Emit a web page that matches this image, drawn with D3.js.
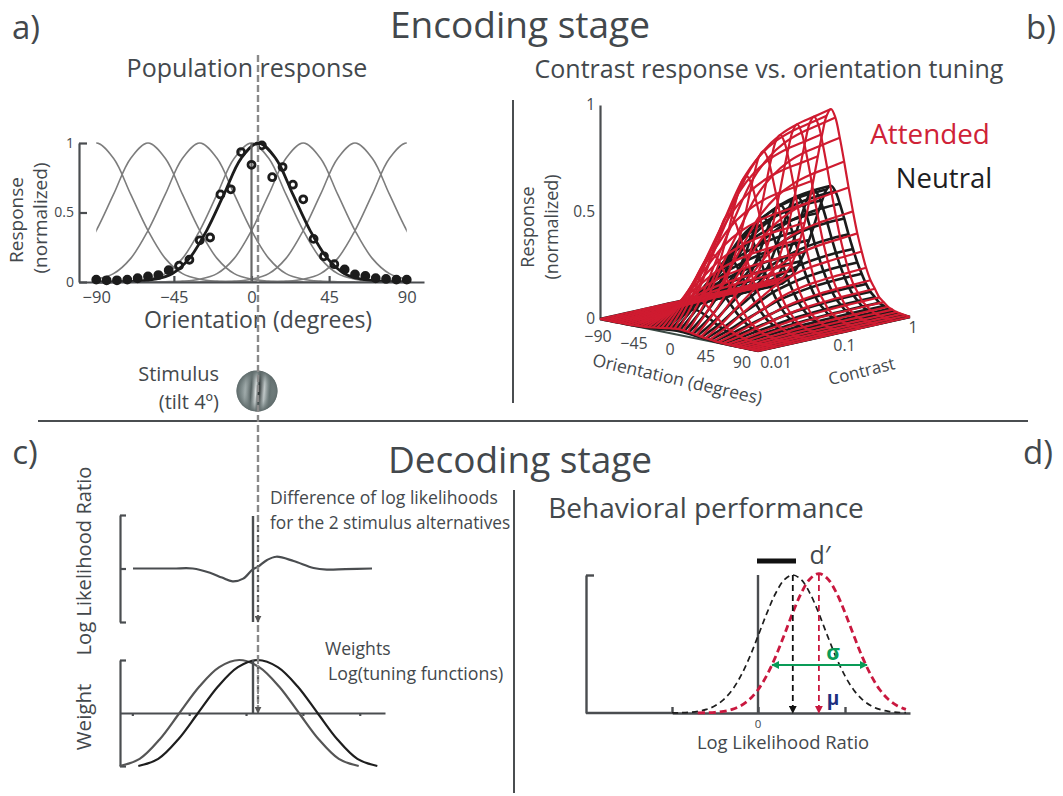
<!DOCTYPE html>
<html><head><meta charset="utf-8">
<script src="https://cdn.jsdelivr.net/npm/d3@7/dist/d3.min.js"></script>
<style>html,body{margin:0;padding:0;background:#fff}svg{display:block}text{font-family:"Open Sans",sans-serif;fill:#43484c}</style>
</head><body><svg id="c" width="1063" height="796"></svg>
<script>
// ---- panel a
const tuningPeaks=[-90,-60,-30,0,30,60,90];
const tuningOffsets=[-120,-90,-80,-70,-60,-50,-40,-30,-20,-10,0,10,20,30,40,50,60,70,80,90,120];
const tuningValues=[0,0,.002,.006,.02,.06,.17,.37,.63,.89,1,.89,.63,.37,.17,.06,.02,.006,.002,0,0];
const fittedPeak=4;
const dotOrient=[-90,-84,-78,-72,-66,-60,-54,-48,-42,-36,-30,-24,-18,-12,-6,0,6,12,18,24,30,36,42,48,54,60,66,72,78,84,90];
const dotResp=[.017,.012,.012,.017,.027,.04,.05,.085,.118,.16,.30,.32,.63,.667,.935,.843,.983,.754,.827,.70,.595,.31,.185,.128,.09,.055,.043,.027,.022,.017,.017];
const orientTicksA=[-90,-45,0,45,90];
const respTicks=[0,.5,1];
// ---- panel b
const meshOrient=[-90,-85,-80,-75,-70,-65,-60,-55,-50,-45,-40,-35,-30,-25,-20,-15,-10,-5,0,5,10,15,20,25,30,35,40,45,50,55,60,65,70,75,80,85,90];
const meshTuning=[0,.003,.007,.012,.02,.03,.05,.07,.11,.15,.21,.29,.38,.49,.61,.74,.86,.96,1,.96,.86,.74,.61,.49,.38,.29,.21,.15,.11,.07,.05,.03,.02,.012,.007,.003,0];
const meshContrast=[.01,.0167,.0278,.0464,.0774,.129,.215,.359,.599,1];
const attendedCRF=[.03,.18,.38,.57,.75,.86,.925,.96,.98,1];
const neutralCRF=[.02,.11,.23,.34,.45,.515,.56,.585,.597,.60];
const orientTicksB=[-90,-45,0,45,90];
const contrastTicks=[.01,.1,1];
// ---- panel c
const llrOrient=[-90,-60,-45,-32,-23,-15,-7,0,4,11,18,31,46,56,70,90];
const llrValue=[0,0,0,-.08,-.17,-.24,-.19,-.02,.03,.16,.22,.14,.01,-.02,-.01,0];
const weightOffsets=[-90,-75,-60,-45,-30,-15,0,15,30,45,60,75,90];
const weightValues=[-1,-.866,-.5,0,.5,.866,1,.866,.5,0,-.5,-.866,-1];
const weightPeaks=[-10,4];
const cTicks=[-90,-45,0,45,90];
// ---- panel d
const bellOffsets=[-1.4,-1.3,-1.2,-1.1,-1,-.9,-.8,-.7,-.6,-.5,-.4,-.3,-.2,-.1,0,.1,.2,.3,.4,.5,.6,.7,.8,.9,1,1.1,1.2,1.3,1.4];
const bellValues=[.001,.002,.005,.012,.026,.052,.097,.167,.269,.401,.557,.72,.864,.964,1,.964,.864,.72,.557,.401,.269,.167,.097,.052,.026,.012,.005,.002,.001];
const neutralMean=.4, attendedMean=.7, attendedPeak=1.01;
const llrTicks=[-1,0,1];

const svg=d3.select("#c");
const ink="#4a4d50";
const defs=svg.append("defs");
function marker(id,col,sz){
  const m=defs.append("marker").attr("id",id).attr("viewBox","0 0 10 10").attr("refX",9).attr("refY",5)
    .attr("markerWidth",sz).attr("markerHeight",sz).attr("orient","auto-start-reverse").attr("markerUnits","userSpaceOnUse");
  m.append("path").attr("d","M0,0L10,5L0,10Z").attr("fill",col);
}
marker("aBlack","#111",8);marker("aRed","#c9183f",8);marker("aGreen","#0a9b57",8);marker("aGrey","#555",7);

function txt(x,y,s,size,opt={}){
  const t=svg.append("text").attr("x",x).attr("y",y).attr("font-size",size).text(s)
    .attr("text-anchor",opt.anchor||"middle");
  if(opt.fill)t.style("fill",opt.fill);
  if(opt.weight)t.attr("font-weight",opt.weight);
  if(opt.rot!==undefined)t.attr("transform",`rotate(${opt.rot} ${x} ${y})`);
  return t;
}
// headings
txt(520,38,"Encoding stage",37);
txt(520,473,"Decoding stage",37);
txt(26,39,"a)",33);txt(1041,39,"b)",33);txt(25,464,"c)",33);txt(1038,464,"d)",33);
txt(247,77,"Population response",25);
txt(769,78,"Contrast response vs. orientation tuning",25);
txt(706,518,"Behavioral performance",28);
// separators
svg.append("line").attr("x1",38).attr("x2",1028).attr("y1",421).attr("y2",421).attr("stroke",ink).attr("stroke-width",2);
svg.append("line").attr("x1",513).attr("x2",513).attr("y1",100).attr("y2",403).attr("stroke",ink).attr("stroke-width",2);
svg.append("line").attr("x1",514).attr("x2",514).attr("y1",490).attr("y2",793).attr("stroke",ink).attr("stroke-width",2);

// ===== panel a =====
const xA=d3.scaleLinear().domain([-100,100]).range([79,424]);
const yA=d3.scaleLinear().domain([0,1]).range([282,143]);
defs.append("clipPath").attr("id","clipA").append("rect").attr("x",xA(-90)).attr("width",xA(90)-xA(-90)).attr("y",yA(1)-3).attr("height",yA(0)-yA(1)+6);
const lineA=d3.line().x(d=>xA(d[0])).y(d=>yA(d[1])).curve(d3.curveCatmullRom);
const gA=svg.append("g");
const gAc=gA.append("g").attr("clip-path","url(#clipA)");
tuningPeaks.forEach(p=>{
  gAc.append("path").attr("d",lineA(tuningOffsets.map((o,i)=>[p+o,tuningValues[i]])))
    .attr("fill","none").attr("stroke","#7d7d7d").attr("stroke-width",1.6);
});
gAc.append("path").attr("d",lineA(tuningOffsets.map((o,i)=>[fittedPeak+o,tuningValues[i]])))
  .attr("fill","none").attr("stroke","#1c1c1c").attr("stroke-width",2.8);
const axA=gA.append("g").attr("transform",`translate(0,${yA(0)})`)
  .call(d3.axisBottom(xA).tickValues(orientTicksA).tickFormat(d=>String(d).replace("-","\u2212")).tickSizeInner(-6).tickSizeOuter(0).tickPadding(9));
const ayA=gA.append("g").attr("transform",`translate(${xA(-100)},0)`)
  .call(d3.axisLeft(yA).tickValues(respTicks).tickFormat(d3.format("~g")).tickSizeInner(-8).tickSizeOuter(0).tickPadding(5));
[axA,ayA].forEach(a=>{a.selectAll("path,line").attr("stroke",ink).attr("stroke-width",2.2);});
axA.selectAll("text").attr("font-size",16.5).style("fill","#43484c");
ayA.selectAll("text").attr("font-size",14).style("fill","#43484c");
gA.append("line").attr("x1",xA(0)).attr("x2",xA(0)).attr("y1",yA(1)).attr("y2",yA(0)).attr("stroke","#666").attr("stroke-width",2.2);
gA.selectAll("circle").data(dotOrient).join("circle")
  .attr("cx",d=>xA(d)).attr("cy",(d,i)=>yA(dotResp[i])).attr("r",3.5)
  .attr("fill",(d,i)=>dotResp[i]<.1?"#1c1c1c":"none").attr("stroke","#1c1c1c").attr("stroke-width",2.8);
txt(258,328,"Orientation (degrees)",23);
txt(23,220,"Response",19,{rot:-90});
txt(47,218,"(normalized)",19,{rot:-90});
txt(219,381,"Stimulus",20,{anchor:"end"});
txt(219,409,"(tilt 4º)",20,{anchor:"end"});

// stimulus patch
const gab=defs.append("linearGradient").attr("id","gab").attr("gradientUnits","userSpaceOnUse").attr("x1",237).attr("x2",277).attr("y1",0).attr("y2",0);
[[0,"#7c8a8a"],[.2,"#b9c2c2"],[.35,"#4a5555"],[.47,"#e6eaea"],[.55,"#1d2424"],[.68,"#d5dbdb"],[.82,"#53605f"],[1,"#8a9696"]].forEach(s=>gab.append("stop").attr("offset",s[0]).attr("stop-color",s[1]));
const rg=defs.append("radialGradient").attr("id","fade");
[[0,"#7d8b8b",0],[.55,"#7d8b8b",.35],[1,"#5f6b6b",1]].forEach(s=>rg.append("stop").attr("offset",s[0]).attr("stop-color",s[1]).attr("stop-opacity",s[2]));
svg.append("circle").attr("cx",257).attr("cy",391).attr("r",20.5).attr("fill","url(#gab)").attr("transform","rotate(4 257 391)");
svg.append("circle").attr("cx",257).attr("cy",391).attr("r",20.5).attr("fill","url(#fade)");

// ===== panel b =====
const uO=d3.scaleLinear().domain([-90,90]).range([0,1]);
const tC=d3.scaleLog().domain([.01,1]).range([0,1]);
const cA=[600,319],cB=[758,351],cC=[910,317],cD=[752,285];
const zH=d3.scaleLinear().domain([0,1]).range([0,192]);
function proj(o,c,z){
  const u=uO(o),t=tC(c);
  const fx=cA[0]+u*(cB[0]-cA[0]),fy=cA[1]+u*(cB[1]-cA[1]);
  const bx=cD[0]+u*(cC[0]-cD[0]),by=cD[1]+u*(cC[1]-cD[1]);
  return [fx+t*(bx-fx),fy+t*(by-fy)-zH(z)];
}
const gB=svg.append("g");
const lineB=d3.line().curve(d3.curveCatmullRom);
const zAxis=d3.scaleLinear().domain([0,1]).range([319,105]);
const axZ=gB.append("g").attr("transform","translate(600,0)").call(d3.axisLeft(zAxis).tickValues(respTicks).tickFormat(d3.format("~g")).tickSize(0).tickPadding(5));
axZ.selectAll("path").attr("stroke",ink).attr("stroke-width",2.2);
axZ.selectAll("text").attr("font-size",15.5).style("fill","#43484c");
gB.append("path").attr("d",d3.line()([proj(-90,.01,0),proj(90,.01,0),proj(90,1,0)])).attr("fill","none").attr("stroke","#3b4a44").attr("stroke-width",2.2);
function mesh(crf,col,w){
  const g=gB.append("g").attr("fill","none").attr("stroke",col).attr("stroke-width",w).attr("stroke-linejoin","round");
  meshContrast.forEach((c,j)=>g.append("path").attr("d",lineB(meshOrient.map((o,i)=>proj(o,c,crf[j]*meshTuning[i])))));
  meshOrient.forEach((o,i)=>g.append("path").attr("d",lineB(meshContrast.map((c,j)=>proj(o,c,crf[j]*meshTuning[i])))));
}
mesh(neutralCRF,"#1b1b1b",2.6);
mesh(attendedCRF,"#cf1b30",2.2);
const lblOx=d3.scaleLinear().domain([-90,90]).range([-2,-16]),lblOy=d3.scaleLinear().domain([-90,90]).range([23,17]);
orientTicksB.forEach(o=>{const p=proj(o,.01,0);txt(p[0]+lblOx(o),p[1]+lblOy(o),String(o).replace("-","\u2212"),16);});
const lblCx=d3.scaleLog().domain([.01,1]).range([18,3]),lblCy=d3.scaleLog().domain([.01,1]).range([17,16]);
contrastTicks.forEach(c=>{const p=proj(90,c,0);txt(p[0]+lblCx(c),p[1]+lblCy(c),String(c),16);});
txt(676,385,"Orientation (degrees)",17.5,{rot:13});
txt(863,377,"Contrast",17,{rot:-14});
txt(534,227,"Response",18,{rot:-90});
txt(558,227,"(normalized)",18,{rot:-90});
txt(930,144,"Attended",27.8,{fill:"#cf2237"});
txt(944,188,"Neutral",27.5,{fill:"#1d1d22"});

// ===== panel c =====
const xC=d3.scaleLinear().domain([-90,90]).range([133,372]);
const yL=d3.scaleLinear().domain([-1,1]).range([622,515]);
const yW=d3.scaleLinear().domain([-1,1]).range([766,660]);
const gC=svg.append("g");
const axL=gC.append("g").attr("transform","translate(120,0)").call(d3.axisLeft(yL).tickValues([-1,0,1]).tickFormat("").tickSizeInner(-6).tickSizeOuter(0));
const axW=gC.append("g").attr("transform","translate(120,0)").call(d3.axisLeft(yW).tickValues([-1,1]).tickFormat("").tickSizeInner(-6).tickSizeOuter(0));
const axX=gC.append("g").attr("transform",`translate(0,${yW(0)})`).call(
  d3.axisBottom(d3.scaleLinear().domain([-100,110]).range([119.7,385])).tickValues(cTicks).tickFormat("").tickSize(3).tickSizeOuter(0));
[axL,axW,axX].forEach(a=>a.selectAll("path,line").attr("stroke",ink).attr("stroke-width",2.2));
gC.append("path").attr("d",d3.line().x(d=>xC(d)).y((d,i)=>yL(llrValue[i])).curve(d3.curveCatmullRom)(llrOrient)).attr("fill","none").attr("stroke",ink).attr("stroke-width",2.2);
weightPeaks.forEach((p,k)=>{
  gC.append("path").attr("d",d3.line().x(d=>xC(p+d)).y((d,i)=>yW(weightValues[i])).curve(d3.curveCatmullRom)(weightOffsets))
    .attr("fill","none").attr("stroke",k?"#1e1e1e":"#555").attr("stroke-width",2.2);
});
gC.append("line").attr("x1",253).attr("x2",253).attr("y1",516).attr("y2",622).attr("stroke",ink).attr("stroke-width",2.4);
gC.append("line").attr("x1",253).attr("x2",253).attr("y1",660).attr("y2",713).attr("stroke",ink).attr("stroke-width",2.4);
txt(270,504,"Difference of log likelihoods",17.6,{anchor:"start"});
txt(270,529,"for the 2 stimulus alternatives",17.3,{anchor:"start"});
txt(325,655,"Weights",17.6,{anchor:"start"});
txt(328,680,"Log(tuning functions)",17.8,{anchor:"start"});
txt(91,561,"Log Likelihood Ratio",20.2,{rot:-90});
txt(91,717,"Weight",20.5,{rot:-90});

// stimulus reference dashed line across panels
svg.append("line").attr("x1",258).attr("x2",258).attr("y1",55).attr("y2",715).attr("stroke","#8a8a8a").attr("stroke-width",2.4).attr("stroke-dasharray","7 3");
[[525,622],[662,713]].forEach(s=>svg.append("line").attr("x1",258).attr("x2",258).attr("y1",s[0]).attr("y2",s[1]).attr("stroke","#444").attr("stroke-width",1.2).attr("stroke-dasharray","2 3").attr("marker-end","url(#aGrey)"));

// ===== panel d =====
const xD=d3.scaleLinear().domain([-1,0,1]).range([672,758,845]);
const yD=d3.scaleLinear().domain([0,1]).range([713,575]);
const gD=svg.append("g");
const axDx=gD.append("g").attr("transform",`translate(0,${yD(0)})`).call(
  d3.axisBottom(d3.scaleLinear().domain([-1,0,1,1.76]).range([672,758,845,910])).tickValues(llrTicks).tickFormat("").tickSizeInner(-6).tickSizeOuter(0));
const axDy=gD.append("g").attr("transform","translate(586,0)").call(d3.axisLeft(yD).tickValues([1]).tickFormat("").tickSizeInner(-8).tickSizeOuter(0));
[axDx,axDy].forEach(a=>a.selectAll("path,line").attr("stroke",ink).attr("stroke-width",2.4));
gD.append("path").attr("d",`M586,${yD(0)}H672`).attr("stroke",ink).attr("stroke-width",2.4);
gD.append("line").attr("x1",xD(0)).attr("x2",xD(0)).attr("y1",yD(1)).attr("y2",yD(0)).attr("stroke",ink).attr("stroke-width",2.4);
const lineD=d3.line().curve(d3.curveCatmullRom);
gD.append("path").attr("d",lineD(bellOffsets.map((o,i)=>[xD(neutralMean+o),yD(bellValues[i])]).filter(p=>p[0]<=910)))
  .attr("fill","none").attr("stroke","#1d1d1d").attr("stroke-width",1.7).attr("stroke-dasharray","6 4");
gD.append("path").attr("d",lineD(bellOffsets.map((o,i)=>[xD(attendedMean+o),yD(bellValues[i]*attendedPeak)]).filter(p=>p[0]<=910)))
  .attr("fill","none").attr("stroke","#c9183f").attr("stroke-width",2.8).attr("stroke-dasharray","7 4");
gD.append("line").attr("x1",xD(neutralMean)).attr("x2",xD(neutralMean)).attr("y1",yD(1)).attr("y2",yD(0)).attr("stroke","#111").attr("stroke-width",1.8).attr("stroke-dasharray","6 4").attr("marker-end","url(#aBlack)");
gD.append("line").attr("x1",xD(attendedMean)).attr("x2",xD(attendedMean)).attr("y1",yD(1)).attr("y2",yD(0)).attr("stroke","#c9183f").attr("stroke-width",1.8).attr("stroke-dasharray","6 4").attr("marker-end","url(#aRed)");
gD.append("line").attr("x1",772).attr("x2",867).attr("y1",665).attr("y2",665).attr("stroke","#0a9b57").attr("stroke-width",2.2).attr("marker-start","url(#aGreen)").attr("marker-end","url(#aGreen)");
gD.append("line").attr("x1",757).attr("x2",796).attr("y1",561).attr("y2",561).attr("stroke","#111").attr("stroke-width",5);
txt(820,564,"d\u2032",25);
txt(833,660,"σ",21,{fill:"#0a9b57",weight:"700"});
txt(833,705,"μ",19,{fill:"#1d2f80",weight:"700"});
txt(758,728,"0",11.5);
txt(783,749,"Log Likelihood Ratio",18.4);
</script></body></html>
